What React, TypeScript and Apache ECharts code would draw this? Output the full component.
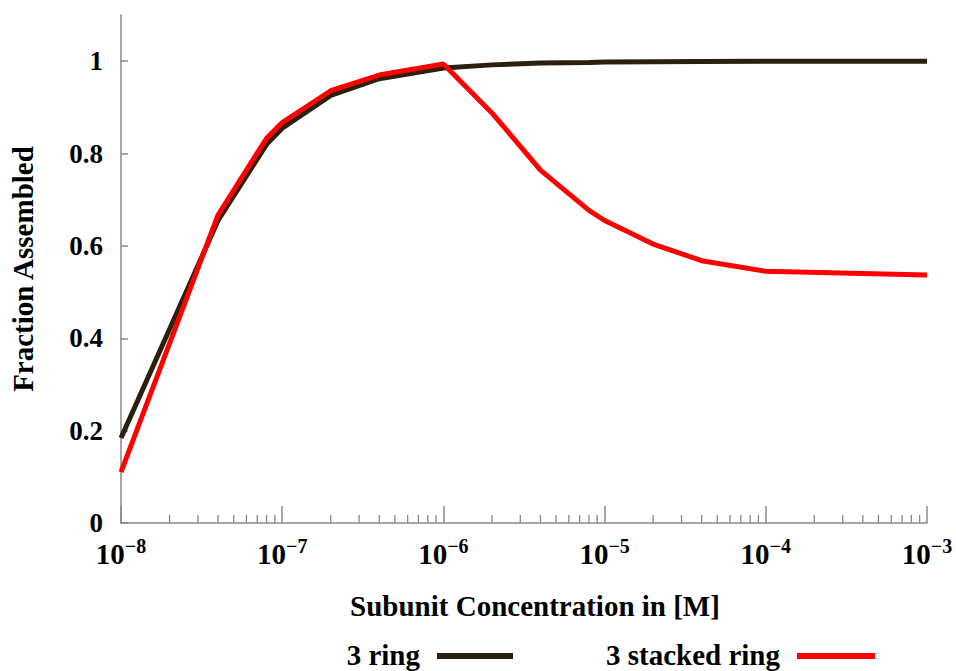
import React, { useEffect, useRef } from "react";
import * as echarts from "echarts";

const concentrations = [1e-8, 4e-8, 8e-8, 1e-7, 2e-7, 4e-7, 1e-6, 2e-6, 4e-6, 8e-6, 1e-5, 2e-5, 4e-5, 1e-4, 1e-3];
const ring3 = [0.184, 0.655, 0.82, 0.855, 0.926, 0.962, 0.985, 0.992, 0.996, 0.997, 0.998, 0.999, 0.9995, 1.0, 1.0];
const stackedRing3 = [0.11, 0.667, 0.833, 0.867, 0.936, 0.97, 0.994, 0.888, 0.764, 0.677, 0.655, 0.604, 0.568, 0.545, 0.537];
const yTickValues = [0, 0.2, 0.4, 0.6, 0.8, 1];
const minorTickValues: number[] = [];
[1e-8, 1e-7, 1e-6, 1e-5, 1e-4].forEach((d) => {
  [2, 3, 4, 5, 6, 7, 8, 9].forEach((m) => minorTickValues.push(m * d));
});

const FONT = "Liberation Serif";
const BLACK = "#2b1f0e";
const RED = "#ff0000";
const AXIS = "#888888";

export default function App() {
  const ref = useRef<HTMLDivElement>(null);
  useEffect(() => {
    const chart = echarts.init(ref.current!, null, { renderer: "svg" });
    const pairs = (ys: number[]) => concentrations.map((x, i) => [x, ys[i]]);
    chart.setOption({
      animation: false,
      backgroundColor: "#ffffff",
      textStyle: { fontFamily: FONT },
      grid: { left: 120, right: 29, top: 15, bottom: 148 },
      xAxis: {
        type: "log",
        logBase: 10,
        min: 1e-8,
        max: 1e-3,
        name: "Subunit Concentration in [M]",
        nameLocation: "middle",
        nameGap: 68,
        nameTextStyle: { fontFamily: FONT, fontWeight: "bold", fontSize: 29, color: "#000", padding: [0, 0, 0, 22] },
        axisLine: { show: true, lineStyle: { color: AXIS, width: 1.5 } },
        axisTick: { show: true, inside: true, length: 17, lineStyle: { color: AXIS, width: 1.5 } },
        minorTick: { show: false },
        splitLine: { show: false },
        axisLabel: {
          margin: 13,
          formatter: (v: number) => {
            const e = Math.round(Math.log10(v));
            return "{b|10}{s|\u2212" + -e + "}";
          },
          rich: {
            b: { fontFamily: FONT, fontWeight: "bold", fontSize: 29, color: "#000", verticalAlign: "bottom", lineHeight: 32 },
            s: { fontFamily: FONT, fontWeight: "bold", fontSize: 20, color: "#000", verticalAlign: "top", lineHeight: 20 },
          },
        },
      },
      yAxis: {
        type: "value",
        min: 0,
        max: 1.1,
        name: "Fraction Assembled",
        nameLocation: "middle",
        nameGap: 84,
        nameTextStyle: { fontFamily: FONT, fontWeight: "bold", fontSize: 29, color: "#000" },
        axisLine: { show: true, lineStyle: { color: AXIS, width: 1.5 } },
        axisTick: { show: true, inside: true, length: 7, customValues: yTickValues, lineStyle: { color: AXIS, width: 1.5 } },
        splitLine: { show: false },
        axisLabel: {
          customValues: yTickValues,
          margin: 18,
          fontFamily: FONT,
          fontWeight: "bold",
          fontSize: 27,
          color: "#000",
          formatter: (v: number) => String(v),
        },
      },
      series: [
        {
          type: "custom",
          silent: true,
          z: 1,
          data: minorTickValues.map((v) => [v, 0]),
          encode: { x: 0, y: 1 },
          renderItem: (params: any, api: any) => {
            const p = api.coord([api.value(0), 0]);
            return {
              type: "line",
              shape: { x1: p[0], y1: p[1], x2: p[0], y2: p[1] - 8 },
              style: { stroke: AXIS, lineWidth: 1.3 },
            };
          },
        },
        {
          name: "3 ring",
          type: "line",
          data: pairs(ring3),
          symbol: "none",
          lineStyle: { color: BLACK, width: 5 },
          itemStyle: { color: BLACK },
          z: 3,
        },
        {
          name: "3 stacked ring",
          type: "line",
          data: pairs(stackedRing3),
          symbol: "none",
          lineStyle: { color: RED, width: 5 },
          itemStyle: { color: RED },
          z: 4,
        },
      ],
      graphic: [
        { type: "text", right: 956 - 420, top: 640, style: { text: "3 ring", fontFamily: FONT, fontWeight: "bold", fontSize: 29, fill: "#000" } },
        { type: "rect", shape: { x: 437, y: 653, width: 76, height: 6 }, style: { fill: BLACK } },
        { type: "text", right: 956 - 780, top: 640, style: { text: "3 stacked ring", fontFamily: FONT, fontWeight: "bold", fontSize: 29, fill: "#000" } },
        { type: "rect", shape: { x: 797, y: 653, width: 78, height: 6 }, style: { fill: RED } },
      ],
    });
    return () => chart.dispose();
  }, []);
  return <div ref={ref} style={{ position: "absolute", left: 0, top: 0, width: 956, height: 671 }} />;
}
